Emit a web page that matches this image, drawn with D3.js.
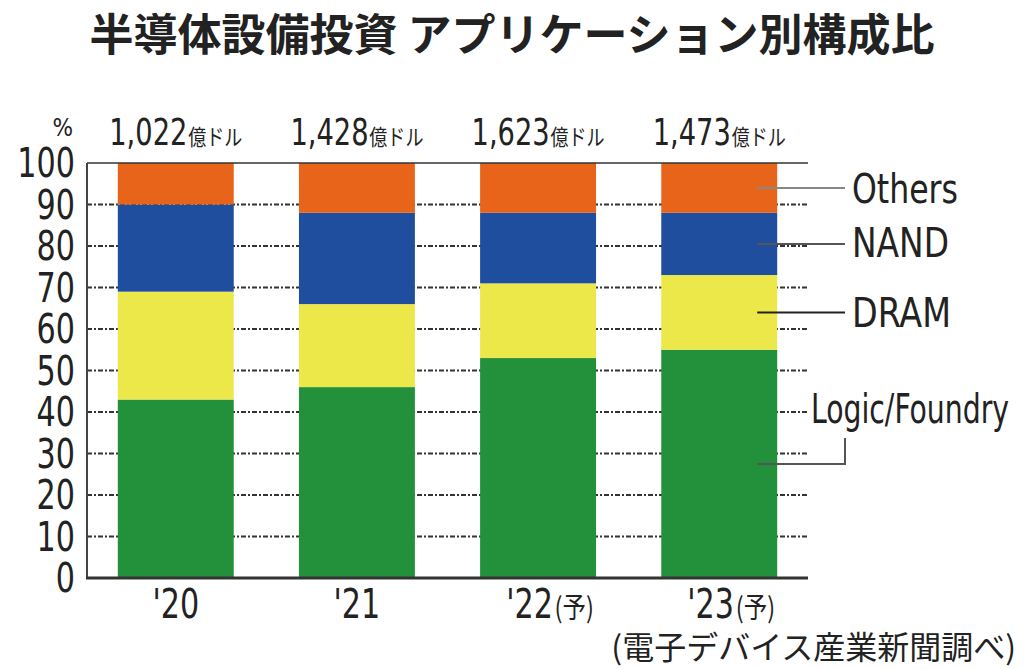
<!DOCTYPE html>
<html lang="ja">
<head>
<meta charset="UTF-8">
<title>半導体設備投資 アプリケーション別構成比</title>
<script src="https://d3js.org/d3.v7.min.js"></script>
<style>
  body { margin: 0; background: #fff; }
  svg { display: block; }
  .jp { font-family: "Noto Sans CJK JP", sans-serif; }
  .num { font-family: "DejaVu Sans Condensed", "DejaVu Sans", sans-serif; }
</style>
</head>
<body>
<svg id="chart" width="1024" height="669"></svg>
<script>
// data (%)
const years = ["'20", "'21", "'22", "'23"];
const yearNotes = ["", "", "(予)", "(予)"];
const totals = ["1,022", "1,428", "1,623", "1,473"];
const logic = [43, 46, 53, 55];
const dram = [26, 20, 18, 18];
const nand = [21, 22, 17, 15];
const others = [10, 12, 12, 12];
const seriesNames = ["Logic/Foundry", "DRAM", "NAND", "Others"];
const seriesColors = ["#23913b", "#ede84a", "#1f4e9f", "#e8641b"];
const yTicks = [0, 10, 20, 30, 40, 50, 60, 70, 80, 90, 100];

const svg = d3.select('#chart');
const plotL = 87, plotR = 808, plotT = 163, plotB = 578;

// condensed look: place each text at (px, py) and squash it horizontally
function condensed(sel, px, py, k) {
  sel.attr('transform', (d, i) => `translate(${px(d, i)},${py(d, i)}) scale(${k},1)`);
}

const x = d3.scaleBand().domain(years).range([plotL, plotR]).paddingInner(0.36).paddingOuter(0.17);
const y = d3.scaleLinear().domain([0, 100]).range([plotB, plotT]);

const rows = years.map((yr, i) => ({
  year: yr, "Logic/Foundry": logic[i], DRAM: dram[i], NAND: nand[i], Others: others[i]
}));
const stacked = d3.stack().keys(seriesNames)(rows);

// title
svg.append('text')
  .attr('class', 'jp')
  .attr('x', 512).attr('y', 51)
  .attr('text-anchor', 'middle')
  .attr('font-size', 44).attr('font-weight', 'bold').attr('fill', '#222')
  .text('半導体設備投資 アプリケーション別構成比');

// dotted gridlines
svg.append('g')
  .selectAll('line')
  .data(yTicks.filter(d => d > 0 && d < 100))
  .join('line')
    .attr('x1', plotL).attr('x2', plotR)
    .attr('y1', d => y(d)).attr('y2', d => y(d))
    .attr('stroke', '#333').attr('stroke-width', 2)
    .attr('stroke-dasharray', '5 2 2 2');

// bars
svg.append('g')
  .selectAll('g')
  .data(stacked)
  .join('g')
    .attr('fill', (d, i) => seriesColors[i])
  .selectAll('rect')
  .data(d => d)
  .join('rect')
    .attr('x', d => x(d.data.year))
    .attr('width', x.bandwidth())
    .attr('y', d => y(d[1]))
    .attr('height', d => y(d[0]) - y(d[1]));

// frame: top line, y axis, baseline
svg.append('line').attr('x1', plotL).attr('x2', plotR).attr('y1', plotT).attr('y2', plotT)
  .attr('stroke', '#333').attr('stroke-width', 1.5);
svg.append('line').attr('x1', plotL).attr('x2', plotL).attr('y1', plotT).attr('y2', plotB)
  .attr('stroke', '#444').attr('stroke-width', 2);
svg.append('line').attr('x1', plotL - 1).attr('x2', plotR).attr('y1', plotB).attr('y2', plotB)
  .attr('stroke', '#333').attr('stroke-width', 3);

// y tick labels
svg.append('g')
  .selectAll('text')
  .data(yTicks)
  .join('text')
    .attr('class', 'num')
    .attr('text-anchor', 'end')
    .attr('font-size', 40).attr('fill', '#222')
    .text(d => d)
    .call(condensed, () => 75, d => y(d) + 14, 0.84);

svg.append('text').attr('class', 'num')
  .attr('x', 73).attr('y', 136).attr('text-anchor', 'end')
  .attr('font-size', 24).attr('fill', '#222').text('%');

// totals above bars
const tot = svg.append('g').selectAll('text')
  .data(years)
  .join('text')
    .attr('text-anchor', 'middle')
    .attr('fill', '#222')
    .call(condensed, d => x(d) + x.bandwidth() / 2, () => 145, 0.82);
tot.append('tspan').attr('class', 'num').attr('font-size', 37).text((d, i) => totals[i]);
tot.append('tspan').attr('class', 'jp').attr('font-size', 22).attr('dx', 1).text('億ドル');

// x labels
const xl = svg.append('g').selectAll('text')
  .data(years)
  .join('text')
    .attr('text-anchor', 'middle')
    .attr('fill', '#222')
    .call(condensed, (d, i) => x(d) + x.bandwidth() / 2 + (yearNotes[i] ? 12 : 0), () => 618, 0.84);
xl.append('tspan').attr('class', 'num').attr('font-size', 40).text(d => d);
xl.append('tspan').attr('class', 'jp').attr('font-size', 28).attr('dx', 2)
  .text((d, i) => yearNotes[i]);

// legend leaders and labels
const last = stacked.map(s => s[s.length - 1]);
const lx = x(years[3]) + x.bandwidth() - 20;
const labelY = [438, 313, 243, 189];
const labelW = [198, 99, 97, 106];
const leaderColors = ['#555', '#222', '#555', '#888'];
const leg = svg.append('g');
last.forEach((d, i) => {
  const my = y((d[0] + d[1]) / 2);
  if (i === 0) {
    leg.append('path')
      .attr('d', `M${lx},${my}H845V${labelY[i]}`)
      .attr('fill', 'none').attr('stroke', leaderColors[i]).attr('stroke-width', 2);
  } else {
    leg.append('line')
      .attr('x1', lx).attr('x2', 845).attr('y1', my).attr('y2', my)
      .attr('stroke', leaderColors[i]).attr('stroke-width', 2);
  }
});
leg.selectAll('text')
  .data(seriesNames)
  .join('text')
    .attr('class', 'num')
    .attr('font-size', 40).attr('fill', '#222')
    .text(d => d)
    .each(function (d, i) {
      const k = labelW[i] / this.getComputedTextLength();
      const px = i === 0 ? 811 : 852;
      const py = i === 0 ? 423 : labelY[i] + 14;
      d3.select(this).attr('transform', `translate(${px},${py}) scale(${k},1)`);
    });

// source
svg.append('text')
  .attr('class', 'jp')
  .attr('x', 1016).attr('y', 659)
  .attr('text-anchor', 'end')
  .attr('font-size', 32).attr('fill', '#222')
  .text('(電子デバイス産業新聞調べ)');
</script>
</body>
</html>
